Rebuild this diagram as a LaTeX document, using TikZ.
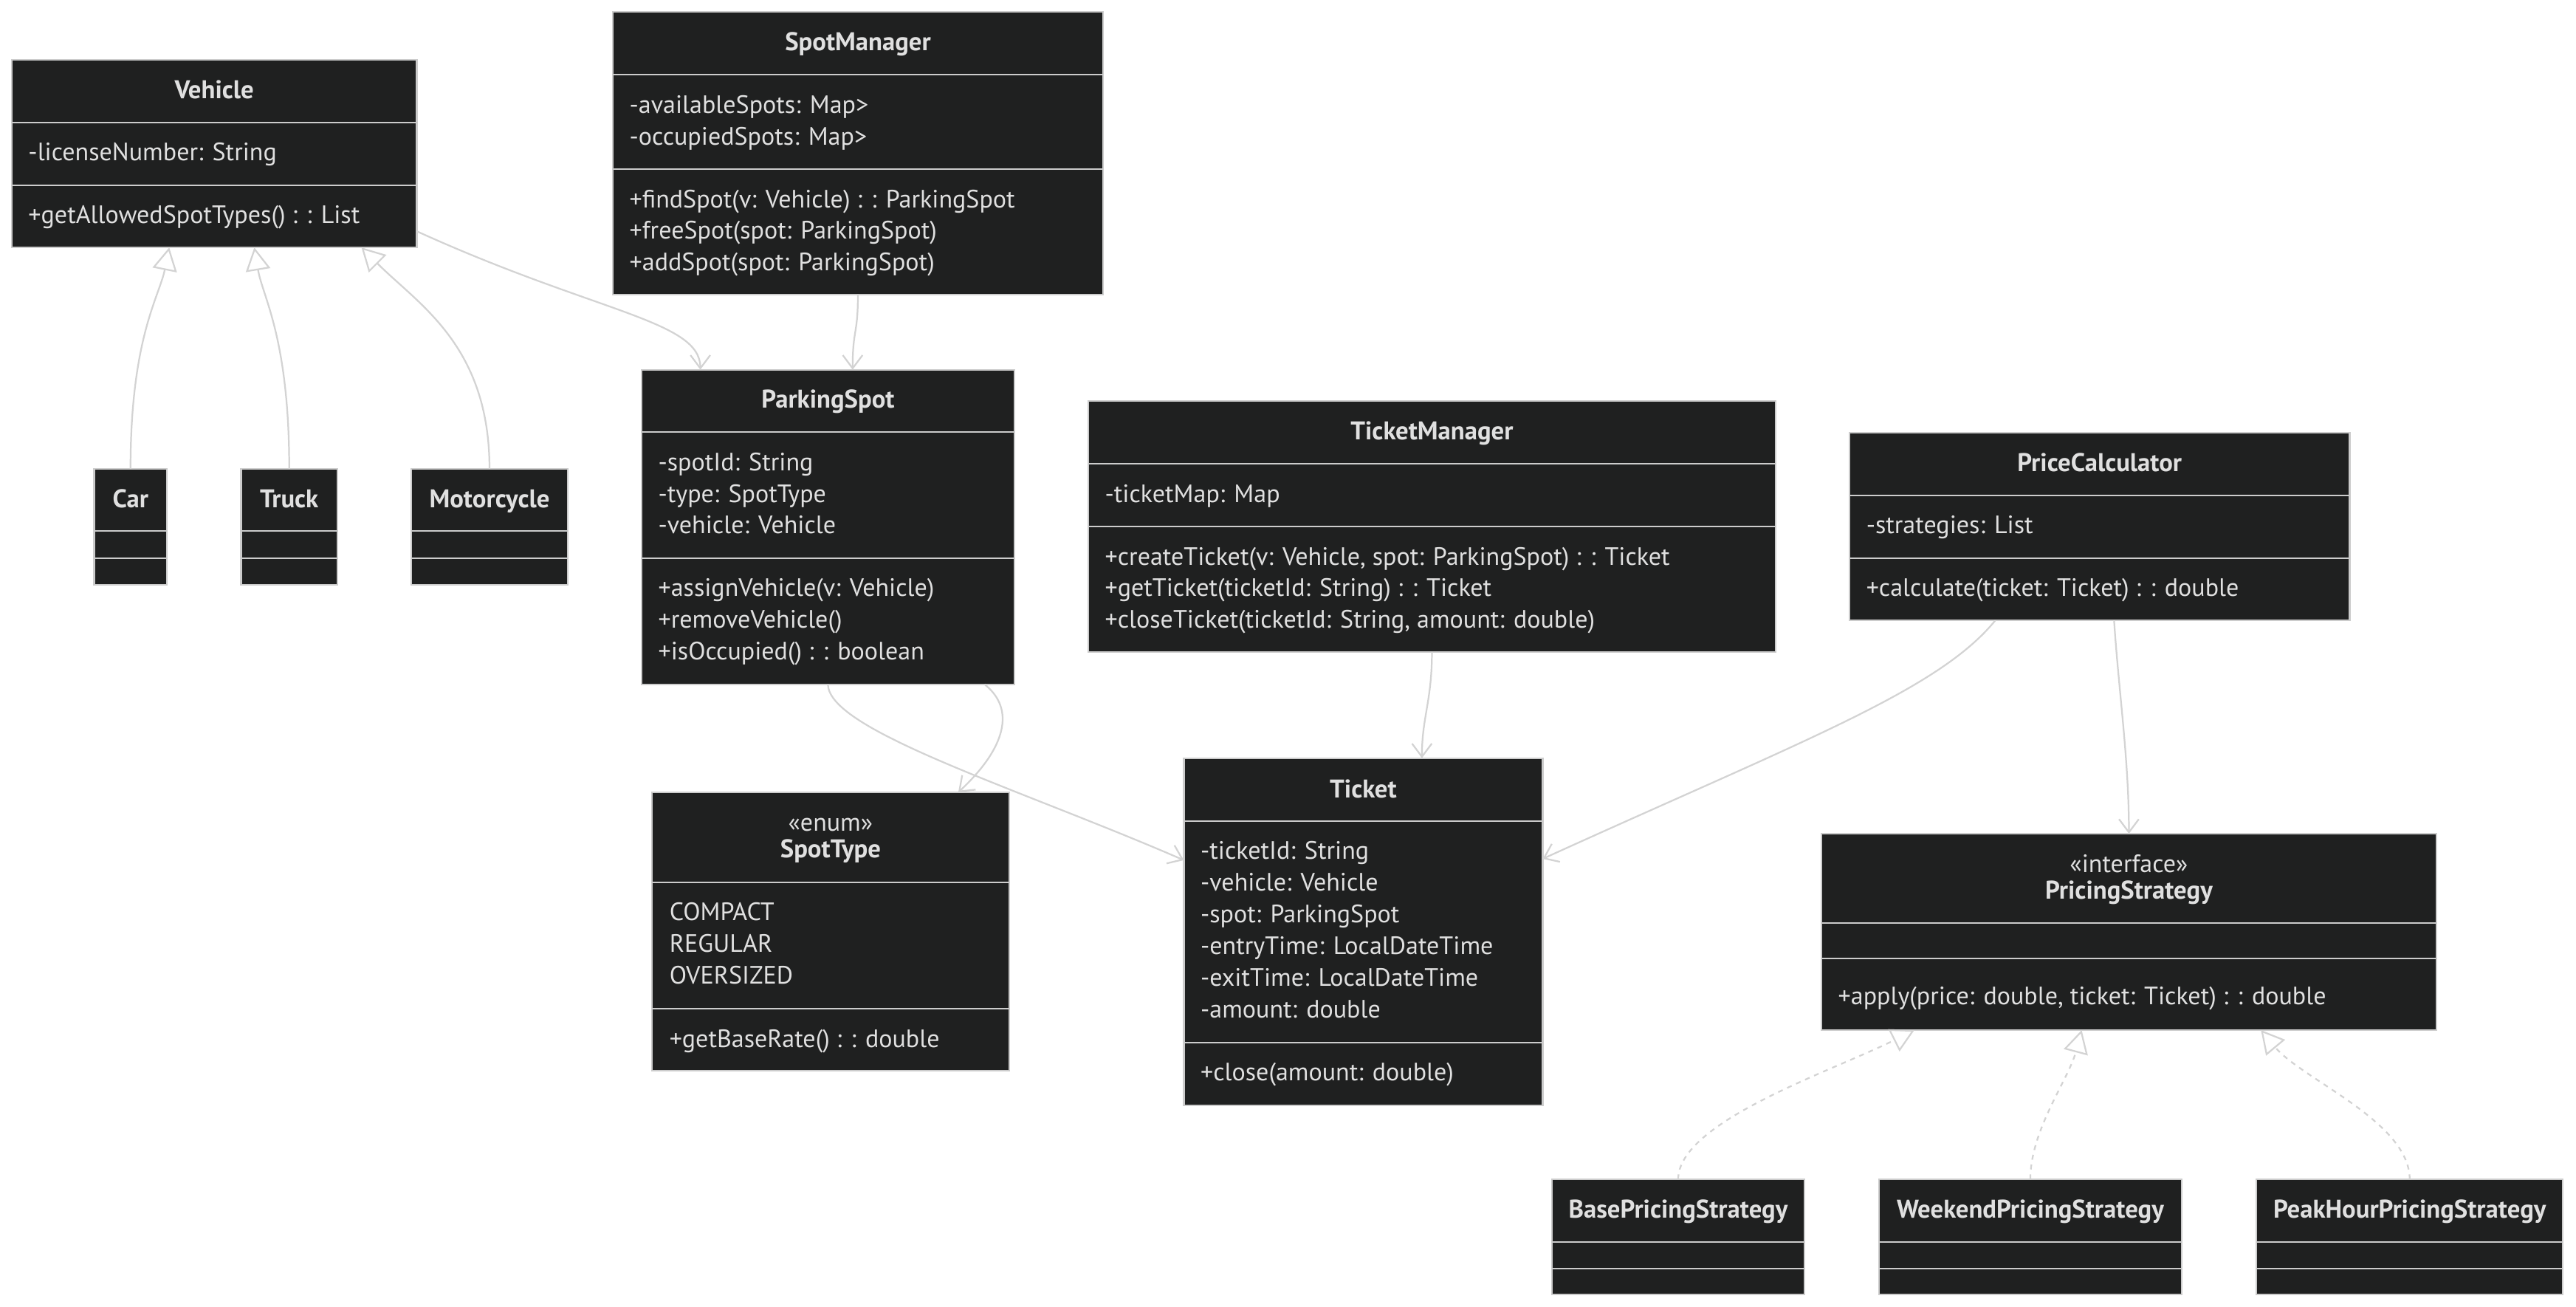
\documentclass[tikz,border=0pt]{standalone}
\usepackage{fontspec}
\setmainfont{PT Sans}
\usetikzlibrary{arrows.meta}

\definecolor{boxbg}{HTML}{1F2020}
\definecolor{boxline}{HTML}{CCCCCC}
\definecolor{txt}{HTML}{E0E0E0}
\definecolor{edge}{HTML}{D3D3D3}

\tikzset{
  cls/.style={draw=boxline, fill=boxbg, line width=1pt, anchor=north west, inner sep=0pt, outer sep=0pt},
  sep/.style={draw=boxline, line width=1pt},
  ttl/.style={text=txt, anchor=base, inner sep=0pt, font=\bfseries\fontsize{15.6}{19.3}\selectfont},
  ster/.style={text=txt, anchor=base, inner sep=0pt, font=\fontsize{15.3}{19.3}\selectfont},
  mem/.style={text=txt, anchor=base west, align=left, inner sep=0pt, font=\fontsize{15.3}{19.3}\selectfont},
  rel/.style={draw=edge, line width=1pt, -{Straight Barb[length=8pt, width=12pt]}},
  inh/.style={draw=edge, line width=1pt, -{Triangle[open, length=14pt, width=15pt]}},
  impl/.style={inh, dash pattern=on 3pt off 3pt},
}

\begin{document}
\begin{tikzpicture}[x=1pt, y=-1pt]
\useasboundingbox[fill=white] (0,0) rectangle (1568,795.4);

% class boxes
\node[cls, minimum width=246.6pt, minimum height=114.3pt] (veh) at (7.1,36.3) {};
\node[cls, minimum width=298.4pt, minimum height=172.1pt] (sm) at (373,7.2) {};
\node[cls, minimum width=227pt, minimum height=191.5pt] (ps) at (390.5,225) {};
\node[cls, minimum width=418.4pt, minimum height=152.8pt] (tm) at (662.4,244) {};
\node[cls, minimum width=304.4pt, minimum height=114.2pt] (pc) at (1125.8,263.3) {};
\node[cls, minimum width=217.5pt, minimum height=169.4pt] (st) at (396.8,482.2) {};
\node[cls, minimum width=218.4pt, minimum height=211.2pt] (tk) at (720.6,461.4) {};
\node[cls, minimum width=374.3pt, minimum height=119.5pt] (pst) at (1108.7,507.4) {};
\node[cls, minimum width=44.3pt, minimum height=70.4pt] (car) at (57.3,285.4) {};
\node[cls, minimum width=58.7pt, minimum height=70.4pt] (trk) at (146.7,285.4) {};
\node[cls, minimum width=95.3pt, minimum height=70.4pt] (moto) at (250.3,285.4) {};
\node[cls, minimum width=153.6pt, minimum height=70.1pt] (bps) at (944.7,717.7) {};
\node[cls, minimum width=184.3pt, minimum height=70.1pt] (wps) at (1143.7,717.7) {};
\node[cls, minimum width=186.5pt, minimum height=70.1pt] (phps) at (1373.5,717.7) {};

% compartment lines
\foreach \y in {74.5,112.7} \draw[sep] (7.1,\y) -- (253.7,\y);
\foreach \y in {45.4,102.9} \draw[sep] (373,\y) -- (671.4,\y);
\foreach \y in {262.9,339.6} \draw[sep] (390.5,\y) -- (617.5,\y);
\foreach \y in {282.2,320.4} \draw[sep] (662.4,\y) -- (1080.8,\y);
\foreach \y in {301.4,339.6} \draw[sep] (1125.8,\y) -- (1430.2,\y);
\foreach \y in {537,613.9} \draw[sep] (396.8,\y) -- (614.3,\y);
\foreach \y in {499.6,634.5} \draw[sep] (720.6,\y) -- (939,\y);
\foreach \y in {561.7,583.3} \draw[sep] (1108.7,\y) -- (1483,\y);
\foreach \a/\b in {57.3/101.6,146.7/205.4,250.3/345.6}
  \foreach \y in {323.1,339.7} \draw[sep] (\a,\y) -- (\b,\y);
\foreach \a/\b in {944.7/1098.3,1143.7/1328,1373.5/1560}
  \foreach \y in {755.9,772} \draw[sep] (\a,\y) -- (\b,\y);

% texts (multi-line nodes sit on their last baseline)
\node[ttl] (vehT) at (130.4,59.8) {Vehicle};
\node[mem] (vehA) at (17.1,97.9) {-licenseNumber: String};
\node[mem] (vehM) at (17.1,136.1) {+getAllowedSpotTypes() : : List};

\node[ttl] (smT) at (522.2,30.9) {SpotManager};
\node[mem] (smA) at (383,88.1) {-availableSpots: Map>\\-occupiedSpots: Map>};
\node[mem] (smM) at (383,164.9) {+findSpot(v: Vehicle) : : ParkingSpot\\+freeSpot(spot: ParkingSpot)\\+addSpot(spot: ParkingSpot)};

\node[ttl] (psT) at (504,248.5) {ParkingSpot};
\node[mem] (psA) at (400.5,324.9) {-spotId: String\\-type: SpotType\\-vehicle: Vehicle};
\node[mem] (psM) at (400.5,401.6) {+assignVehicle(v: Vehicle)\\+removeVehicle()\\+isOccupied() : : boolean};

\node[ttl] (tmT) at (871.6,267.6) {TicketManager};
\node[mem] (tmA) at (672.4,305.6) {-ticketMap: Map};
\node[mem] (tmM) at (672.4,382.4) {+createTicket(v: Vehicle, spot: ParkingSpot) : : Ticket\\+getTicket(ticketId: String) : : Ticket\\+closeTicket(ticketId: String, amount: double)};

\node[ttl] (pcT) at (1278,287) {PriceCalculator};
\node[mem] (pcA) at (1135.8,324.8) {-strategies: List};
\node[mem] (pcM) at (1135.8,363) {+calculate(ticket: Ticket) : : double};

\node[ster] (stS) at (505.55,505.6) {«enum»};
\node[ttl] (stT) at (505.55,522.1) {SpotType};
\node[mem] (stA) at (407.3,599) {COMPACT\\REGULAR\\OVERSIZED};
\node[mem] (stM) at (407.3,637.3) {+getBaseRate() : : double};

\node[ttl] (tkT) at (829.8,485.4) {Ticket};
\node[mem] (tkA) at (730.6,619.5) {-ticketId: String\\-vehicle: Vehicle\\-spot: ParkingSpot\\-entryTime: LocalDateTime\\-exitTime: LocalDateTime\\-amount: double};
\node[mem] (tkM) at (730.6,657.9) {+close(amount: double)};

\node[ster] (pstS) at (1295.85,530.8) {«interface»};
\node[ttl] (pstT) at (1295.85,547.1) {PricingStrategy};
\node[mem] (pstM) at (1118.7,611.5) {+apply(price: double, ticket: Ticket) : : double};

\node[ttl] (carT) at (79.45,309.1) {Car};
\node[ttl] (trkT) at (176.05,309.1) {Truck};
\node[ttl] (motoT) at (297.95,309.1) {Motorcycle};
\node[ttl] (bpsT) at (1021.5,741.2) {BasePricingStrategy};
\node[ttl] (wpsT) at (1235.85,741.2) {WeekendPricingStrategy};
\node[ttl] (phpsT) at (1466.75,741.2) {PeakHourPricingStrategy};

% inheritance
\draw[inh] (car.north) .. controls +(0,-80) and +(-6,30) .. ([xshift=-27.4pt]veh.south);
\draw[inh] (trk.north) .. controls +(0,-80) and +(5,30) .. ([xshift=24.4pt]veh.south);
\draw[inh] (moto.north) .. controls +(0,-75) and +(35,35) .. ([xshift=89.6pt]veh.south);

% associations
\draw[rel] ([yshift=-47.3pt]veh.east) .. controls +(110,50) and +(0,-30) .. ([xshift=-77.7pt]ps.north);
\draw[rel] (sm.south) .. controls +(0,25) and +(0,-25) .. ([xshift=15pt]ps.north);
\draw[rel] ([xshift=95.3pt]ps.south) .. controls +(19,15) and +(29,-27) .. ([xshift=77.75pt]st.north);
\draw[rel] (ps.south) .. controls +(0,28) and +(-100,-43.5) .. ([yshift=43.5pt]tk.west);
\draw[rel] (tm.south) .. controls +(0,30) and +(0,-25) .. ([xshift=35.7pt]tk.north);
\draw[rel] ([xshift=-63.4pt]pc.south) .. controls +(-34.6,42.5) and +(160,-72.7) .. ([yshift=44.3pt]tk.east);
\draw[rel] ([xshift=8.8pt]pc.south) .. controls +(3,45) and +(0,-45) .. (pst.north);

% realisations
\draw[impl] (bps.north) .. controls +(0,-35) and +(-50,25) .. ([xshift=-130.55pt]pst.south);
\draw[impl] (wps.north) .. controls +(0,-30) and +(-8,30) .. ([xshift=-28.75pt]pst.south);
\draw[impl] (phps.north) .. controls +(0,-35) and +(25,30) .. ([xshift=80.35pt]pst.south);
\end{tikzpicture}
\end{document}
